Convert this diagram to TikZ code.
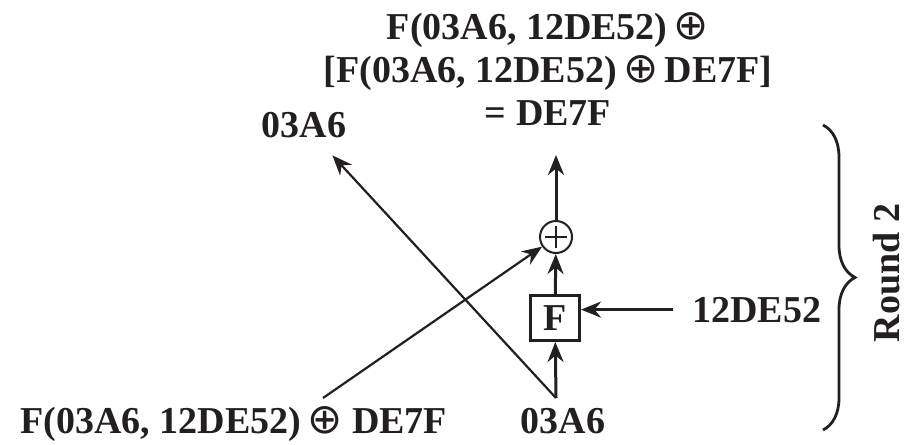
\documentclass[tikz,border=0pt]{standalone}
\usepackage{fontspec}
\setmainfont{Liberation Serif}
\newfontfamily\symfnt{DejaVu Sans}
\usetikzlibrary{arrows.meta,decorations.pathreplacing}

% Symbole xor du texte
\newcommand{\xo}{{\symfnt\mdseries\fontsize{21}{21}\selectfont ⊕}}

\begin{document}
\begin{tikzpicture}[x=0.5pt, y=-0.5pt,
        every node/.style={font=\fontsize{19}{21.5}\selectfont\bfseries, text=ink},
        arr/.style={-{Stealth[length=10pt,width=8pt]}, line width=1.5pt, draw=ink},
        cross/.style={-{Stealth[length=10pt,width=8pt]}, line width=1.1pt, draw=ink},
        fbloc/.style={draw=ink, line width=1.5pt, minimum width=24.5pt, minimum height=22.5pt, inner sep=0pt},
        xorgate/.style={draw=ink, circle, line width=1pt, minimum size=16pt, inner sep=0pt,
            path picture={
                \draw[ink, line width=0.8pt] ([xshift=-5.5pt]path picture bounding box.center) -- ([xshift=5.5pt]path picture bounding box.center);
                \draw[ink, line width=0.8pt] ([yshift=-5.5pt]path picture bounding box.center) -- ([yshift=5.5pt]path picture bounding box.center);
            }}]

        % Couleur
        \definecolor{ink}{RGB}{35,31,32}

        % Cadre
        \useasboundingbox (0,0) rectangle (914,444);

        % Textes
        \node[anchor=north, align=center, inner sep=0pt] (lout) at (548,12)
            {F(03A6, 12DE52)\,\xo\\{}[F(03A6, 12DE52)\,\xo\,DE7F]\\= DE7F};
        \node[anchor=base, inner sep=0pt] (rout) at (304,137) {03A6};
        \node[anchor=base west, inner sep=0pt] (lin) at (20,433) {F(03A6, 12DE52)\,\xo\ DE7F};
        \node[anchor=base, inner sep=0pt] (rin) at (563,433) {03A6};
        \node[anchor=base west, inner xsep=9.5pt, inner ysep=0pt] (key) at (673,322) {12DE52};

        % Blocs
        \node[fbloc] (fbox) at (555,318) {F};
        \node[xorgate] (xr) at (556,237) {};

        \coordinate (rjoin) at (556,398);
        \coordinate (ljoin) at (323,398);
        \coordinate (top) at (556,155);

        % Fleches
        \draw[arr] (rjoin) -- (fbox);
        \draw[arr] (fbox) -- (xr);
        \draw[arr] (xr) -- (top);
        \draw[arr] (key.west) -- (key.west -| fbox.east);
        \draw[cross, shorten >=12pt] (rjoin) -- (rout);
        \draw[cross] (ljoin) -- (xr);

        % Accolade
        \draw[ink, line width=1.4pt, decorate, decoration={brace, amplitude=16pt}] (823,125) -- (823,430);
        \node[rotate=90, inner sep=0pt] (rnd) at (887,273) {Round 2};

    \end{tikzpicture}
\end{document}
